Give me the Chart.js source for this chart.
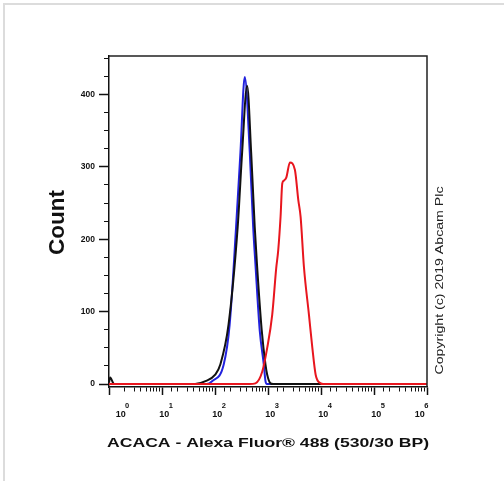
<!DOCTYPE html>
<html>
<head>
<meta charset="utf-8">
<script src="https://cdn.jsdelivr.net/npm/chart.js@4.4.1/dist/chart.umd.min.js"></script>
<style>
  html, body { margin: 0; padding: 0; background: #fff; }
  #frame { position: absolute; left: 3px; top: 3px; right: 0; bottom: 0;
           border-left: 2px solid #dcdcdc; border-top: 2px solid #dcdcdc; }
  canvas { position: absolute; left: 0; top: 0; }
</style>
</head>
<body>
<div id="frame"></div>
<canvas id="histo" width="504" height="481"></canvas>
<script>
/* flow histogram — ACACA stain (red) vs isotype (black) and unstained (blue) */

const xDecades = [1, 10, 100, 1000, 10000, 100000, 1000000];
const decadeExp = ['0', '1', '2', '3', '4', '5', '6'];
const yTicks = [0, 25, 50, 75, 100, 125, 150, 175, 200, 225, 250, 275, 300, 325, 350, 375, 400, 425, 450];
const yLabelled = [0, 100, 200, 300, 400];

const redIntensity = [1, 450, 580, 777, 966, 1202, 1429, 1560, 1726, 1858, 1992, 2213, 2589, 3216, 3731, 4124, 4761, 5921, 6867, 7927, 9860, 11000, 1000000];
const redCount     = [0, 0, 1, 17, 50, 96, 160, 185, 231, 277, 281, 285, 306, 296, 254, 231, 162, 96, 50, 13, 1, 0, 0];

const blackIntensity = [1, 1.05, 1.25, 42, 66, 101, 126, 180, 268, 325, 404, 481, 562, 620, 760, 897, 966, 1116, 1250, 1000000];
const blackCount     = [2, 9, 0, 0, 4, 13, 27, 82, 217, 320, 412, 320, 217, 165, 75, 27, 13, 1, 0, 0];

const blueIntensity = [1, 70, 88, 146, 189, 250, 302, 364, 453, 525, 580, 700, 833, 897, 950, 1000000];
const blueCount     = [0, 0, 4, 27, 82, 217, 320, 424, 320, 217, 165, 73, 27, 4, 0, 0];

const xTitle = 'ACACA - Alexa Fluor® 488 (530/30 BP)';
const yTitle = 'Count';
const credit = 'Copyright (c) 2019 Abcam Plc';

const pts = (xs, ys) => xs.map((x, i) => ({ x, y: ys[i] }));
const isDecade = (v) => Math.abs(Math.log10(v) - Math.round(Math.log10(v))) < 1e-9;

// text squeezed/stretched to the length it has in the picture
function fitText(ctx, text, cx, cy, font, len, angle) {
  ctx.save();
  ctx.translate(cx, cy);
  ctx.rotate(angle);
  ctx.font = font;
  ctx.textAlign = 'center';
  ctx.textBaseline = 'alphabetic';
  const w = ctx.measureText(text).width;
  ctx.scale(len / w, 1);
  ctx.fillText(text, 0, 0);
  ctx.restore();
}

const decor = {
  id: 'decor',
  afterDraw(chart) {
    const { ctx, chartArea: a, scales: { x } } = chart;
    ctx.save();
    ctx.strokeStyle = '#222';
    ctx.lineWidth = 1.5;
    ctx.beginPath();
    ctx.moveTo(a.left, a.top);
    ctx.lineTo(a.right, a.top);
    ctx.lineTo(a.right, a.bottom);
    ctx.stroke();

    ctx.fillStyle = '#111';
    ctx.textAlign = 'left';
    ctx.textBaseline = 'alphabetic';
    xDecades.forEach((v, i) => {
      const px = x.getPixelForValue(v);
      ctx.font = 'bold 9px Arial';
      const w1 = ctx.measureText('10').width;
      ctx.font = 'bold 7.5px Arial';
      const w2 = ctx.measureText(decadeExp[i]).width;
      let left = px - 2.7;
      if (i === 0) left = px + 6.7;
      if (i === xDecades.length - 1) left = px + 2 - w1 - w2;
      ctx.font = 'bold 9px Arial';
      ctx.fillText('10', left, a.bottom + 29.5);
      ctx.font = 'bold 7.5px Arial';
      ctx.fillText(decadeExp[i], left + w1 - 0.6, a.bottom + 20.5);
    });

    fitText(ctx, xTitle, (a.left + a.right) / 2, 447, 'bold 13px Arial', 322, 0);
    fitText(ctx, yTitle, 63.5, 222.5, 'bold 22px Arial', 65, -Math.PI / 2);
    ctx.fillStyle = '#222';
    fitText(ctx, credit, 442.5, 280.5, '11px Arial', 188, -Math.PI / 2);
    ctx.restore();
  },
};

Chart.defaults.font.family = 'Arial, "Liberation Sans", sans-serif';

new Chart(document.getElementById('histo'), {
  type: 'scatter',
  data: {
    datasets: [
      { label: 'ACACA', data: pts(redIntensity, redCount), borderColor: '#e8161e' },
      { label: 'Isotype', data: pts(blackIntensity, blackCount), borderColor: '#111111' },
      { label: 'Unstained', data: pts(blueIntensity, blueCount), borderColor: '#2222dd' },
    ].map((d) => ({
      ...d,
      showLine: true,
      pointRadius: 0,
      borderWidth: 2,
      fill: false,
      cubicInterpolationMode: 'monotone',
    })),
  },
  options: {
    responsive: false,
    animation: false,
    devicePixelRatio: 1,
    layout: { padding: { left: 59, top: 56, right: 77, bottom: 84 } },
    plugins: { legend: { display: false }, tooltip: { enabled: false } },
    scales: {
      x: {
        type: 'logarithmic',
        min: 1,
        max: 1000000,
        afterFit: (s) => { s.height = 10; },
        ticks: { display: false },
        border: { display: true, color: '#111', width: 1.5 },
        grid: {
          drawOnChartArea: false,
          drawTicks: true,
          tickLength: 8,
          tickColor: '#111',
          tickWidth: (c) => (c.tick && isDecade(c.tick.value) ? 1.5 : 1),
          tickBorderDash: (c) => (c.tick && isDecade(c.tick.value) ? [] : [4, 20]),
        },
      },
      y: {
        min: -4,
        max: 453,
        afterFit: (s) => { s.width = 50; },
        afterBuildTicks: (s) => { s.ticks = yTicks.map((v) => ({ value: v })); },
        ticks: {
          padding: 4,
          color: '#111',
          font: { size: 8.5, weight: 'bold' },
          callback: (v) => (yLabelled.includes(v) ? String(v) : ''),
        },
        border: { display: true, color: '#111', width: 1.5 },
        grid: {
          drawOnChartArea: false,
          drawTicks: true,
          tickLength: 10,
          tickColor: '#111',
          tickWidth: (c) => (c.tick && yLabelled.includes(c.tick.value) ? 1.5 : 1),
          tickBorderDash: (c) => (c.tick && yLabelled.includes(c.tick.value) ? [] : [5, 5]),
          tickBorderDashOffset: (c) => (c.tick && yLabelled.includes(c.tick.value) ? 0 : 5),
        },
      },
    },
  },
  plugins: [decor],
});
</script>
</body>
</html>
